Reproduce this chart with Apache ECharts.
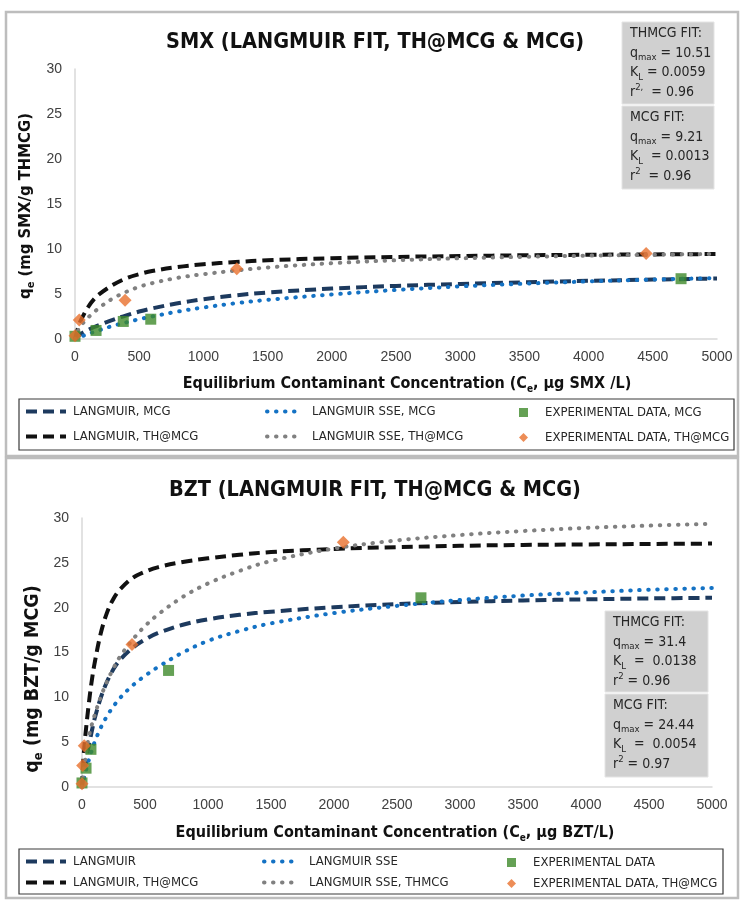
<!DOCTYPE html>
<html>
<head>
<meta charset="utf-8">
<script src="https://cdn.jsdelivr.net/npm/echarts@6/dist/echarts.min.js"></script>
<style>
  html, body { margin: 0; padding: 0; background: #ffffff; }
  #chart { width: 743px; height: 903px; }
</style>
</head>
<body>
<div id="chart"></div>
<script>
// ---------------- SMX panel data ----------------
// Concentration samples (µg/L) at which the fitted isotherms are drawn
const smxCe = [0, 25, 50, 100, 150, 200, 300, 400, 500, 600, 800, 1000, 1250, 1500, 2000, 2500, 3000, 3500, 4000, 4500, 5000];
const smxLangmuirMCG   = [0, 0.35, 0.62, 1.0, 1.33, 1.62, 2.15, 2.63, 3.05, 3.4, 3.97, 4.42, 4.85, 5.17, 5.6, 5.9, 6.12, 6.3, 6.46, 6.6, 6.72];
const smxSseMCG        = [0, 0.14, 0.28, 0.55, 0.79, 1.03, 1.48, 1.85, 2.2, 2.5, 3.05, 3.5, 3.97, 4.35, 4.95, 5.45, 5.85, 6.15, 6.4, 6.6, 6.78];
const smxLangmuirTH    = [0, 1.3, 2.2, 3.5, 4.45, 5.1, 6.05, 6.75, 7.2, 7.55, 8.0, 8.3, 8.55, 8.75, 8.98, 9.12, 9.22, 9.3, 9.36, 9.4, 9.44];
const smxSseTH         = [0, 1.0, 1.55, 2.35, 3.0, 3.6, 4.55, 5.25, 5.8, 6.2, 6.8, 7.2, 7.6, 7.95, 8.42, 8.75, 8.97, 9.13, 9.26, 9.37, 9.45];
// Measured points [Ce, qe]
const smxExpMCG = [[0, 0.3], [164, 0.95], [376, 1.95], [590, 2.2], [4720, 6.7]];
const smxExpTH  = [[0, 0.35], [33, 2.1], [390, 4.3], [1260, 7.8], [4448, 9.5]];

// ---------------- BZT panel data ----------------
const bztCe = [0, 10, 25, 50, 75, 100, 150, 200, 250, 300, 400, 500, 600, 800, 1000, 1250, 1500, 2000, 2500, 3000, 3500, 4000, 4500, 5000];
const bztLangmuirMCG = [0, 0.95, 2.25, 4.3, 6.05, 7.6, 10.0, 11.8, 13.15, 14.15, 15.5, 16.45, 17.15, 18.1, 18.7, 19.2, 19.55, 20.05, 20.4, 20.63, 20.8, 20.93, 21.03, 21.1];
const bztSseMCG      = [0, 0.6, 1.5, 2.8, 3.95, 5.0, 6.65, 7.95, 9.0, 9.9, 11.3, 12.4, 13.35, 15.0, 16.3, 17.4, 18.25, 19.4, 20.2, 20.85, 21.35, 21.7, 22.0, 22.2];
const bztLangmuirTH  = [0, 2.8, 5.5, 8.8, 11.6, 13.8, 17.2, 19.5, 21.0, 22.0, 23.3, 24.0, 24.5, 25.1, 25.5, 25.9, 26.2, 26.55, 26.75, 26.9, 27.0, 27.05, 27.1, 27.15];
const bztSseTH       = [0, 1.3, 3.0, 5.3, 6.8, 8.0, 10.1, 11.8, 13.25, 14.5, 16.4, 17.95, 19.2, 21.2, 22.7, 24.1, 25.2, 26.6, 27.5, 28.1, 28.55, 28.9, 29.15, 29.35];
const bztExpMCG = [[0, 0.45], [32, 2.1], [71, 4.2], [687, 13.0], [2690, 21.1]];
const bztExpTH  = [[0, 0.37], [5, 2.4], [18, 4.6], [397, 15.9], [2074, 27.3]];

// Axis ticks
const yTicks = { min: 0, max: 30, interval: 5 };
const xTicks = { min: 0, max: 5000, interval: 500 };

const NARROW = '"DejaVu Sans Condensed", "Liberation Sans Narrow", sans-serif';
const SANS = '"Liberation Sans", Arial, sans-serif';

const C_NAVY = '#1d3a5e';
const C_BLACK = '#111111';
const C_GRAY = '#808080';
const C_BLUE = '#1472c4';
const C_GREEN = '#3f8a2a';
const C_ORANGE = '#e8702d';

function pairs(xs, ys) { return xs.map((x, i) => [x, ys[i]]); }

function dashed(name, xs, ys, color, idx) {
  return {
    name, type: 'line', xAxisIndex: idx, yAxisIndex: idx,
    data: pairs(xs, ys), symbol: 'none', smooth: 0.35,
    lineStyle: { color, width: 4, type: [11, 6] }, itemStyle: { color }, z: 2
  };
}
function dotted(name, xs, ys, color, idx) {
  return {
    name, type: 'line', xAxisIndex: idx, yAxisIndex: idx,
    data: pairs(xs, ys), symbol: 'none', smooth: 0.35,
    lineStyle: { color, width: 4, type: [0.5, 8.5], cap: 'round' }, itemStyle: { color }, z: 2
  };
}
function points(name, data, color, symbol, size, idx) {
  return {
    name, type: 'scatter', xAxisIndex: idx, yAxisIndex: idx,
    data, symbol, symbolSize: size, itemStyle: { color }, z: 5
  };
}

function xAxisOf(grid) {
  return {
    gridIndex: grid, type: 'value', min: xTicks.min, max: xTicks.max, interval: xTicks.interval,
    axisLine: { show: true, lineStyle: { color: '#d9d9d9', width: 1.5 } },
    axisTick: { show: false }, splitLine: { show: false },
    axisLabel: { color: '#404040', fontSize: 14, fontFamily: SANS, margin: 11, formatter: v => String(v) }
  };
}
function yAxisOf(grid) {
  return {
    gridIndex: grid, type: 'value', min: yTicks.min, max: yTicks.max, interval: yTicks.interval,
    axisLine: { show: true, lineStyle: { color: '#d9d9d9', width: 1.5 } },
    axisTick: { show: false }, splitLine: { show: false },
    axisLabel: { color: '#404040', fontSize: 14, fontFamily: SANS, margin: 13 }
  };
}

// One legend entry; kind is 'dash', 'dot' or 'mark'.
// Line entries hide the marker ECharts adds in the middle of the icon.
function legendItem(name, left, top, kind) {
  const isLine = kind !== 'mark';
  const widths = { dash: 40, dot: 32, mark: 9 };
  const gaps = { dash: 2, dot: 8, mark: 12 };
  return {
    data: [name], left, top,
    itemWidth: widths[kind], itemHeight: isLine ? 10 : 9,
    itemGap: 0, padding: 0, selectedMode: false,
    itemStyle: isLine ? { opacity: 0 } : {},
    lineStyle: kind === 'dash' ? { width: 4 } : kind === 'dot' ? { width: 4, cap: 'round' } : {},
    textStyle: { fontFamily: NARROW, fontSize: 13, color: '#262626', padding: [0, 0, 0, gaps[kind]] }
  };
}

const subRich = {
  s: { fontSize: 9.5, fontFamily: NARROW, fill: '#262626', lineHeight: 12, verticalAlign: 'bottom' },
  p: { fontSize: 9.5, fontFamily: NARROW, fill: '#262626', lineHeight: 12, verticalAlign: 'top' }
};

function fitBox(x, y, w, h, lines) {
  return [
    { type: 'rect', shape: { x, y, width: w, height: h },
      style: { fill: '#d0d0d0', stroke: '#e4e4e4', lineWidth: 1 }, z: 10 },
    { type: 'text', x: x + 8, y: y + 2, z: 11,
      style: { text: lines.join('\n'), font: '14px ' + NARROW, fill: '#262626',
               lineHeight: 19.5, rich: subRich } }
  ];
}

const boldTitle = (txt, x, y, size) => ({
  type: 'text', x, y, z: 10,
  style: { text: txt, font: 'bold ' + size + 'px ' + NARROW, fill: '#111111', align: 'center', verticalAlign: 'middle' }
});

function axisTitle(mainBefore, sub, mainAfter, x, y, size, rotate) {
  const r = {
    b: { fontSize: size, fontWeight: 'bold', fontFamily: NARROW, fill: '#111111', lineHeight: size + 4 },
    e: { fontSize: Math.round(size * 0.65), fontWeight: 'bold', fontFamily: NARROW, fill: '#111111', lineHeight: 12, verticalAlign: 'bottom' }
  };
  return {
    type: 'text', x, y, rotation: rotate ? Math.PI / 2 : 0, z: 10,
    style: { text: '{b|' + mainBefore + '}{e|' + sub + '}{b|' + mainAfter + '}', rich: r,
             align: 'center', verticalAlign: 'middle' }
  };
}

const chart = echarts.init(document.getElementById('chart'), null, { renderer: 'canvas' });

const option = {
  backgroundColor: '#ffffff',
  animation: false,
  grid: [
    { left: 75, top: 69, width: 642, height: 270 },
    { left: 82, top: 518, width: 630, height: 269 }
  ],
  xAxis: [xAxisOf(0), xAxisOf(1)],
  yAxis: [yAxisOf(0), yAxisOf(1)],
  legend: [
    legendItem('LANGMUIR, MCG', 24, 405, 'dash'),
    legendItem('LANGMUIR SSE, MCG', 265, 405, 'dot'),
    legendItem('EXPERIMENTAL DATA, MCG', 519, 406, 'mark'),
    legendItem('LANGMUIR, TH@MCG', 24, 430, 'dash'),
    legendItem('LANGMUIR SSE, TH@MCG', 265, 430, 'dot'),
    legendItem('EXPERIMENTAL DATA, TH@MCG', 519, 431, 'mark'),
    legendItem('LANGMUIR', 24, 855, 'dash'),
    legendItem('LANGMUIR SSE', 262, 855, 'dot'),
    legendItem('EXPERIMENTAL DATA', 507, 856, 'mark'),
    legendItem('LANGMUIR, TH@MCG', 24, 876, 'dash'),
    legendItem('LANGMUIR SSE, THMCG', 262, 876, 'dot'),
    legendItem('EXPERIMENTAL DATA, TH@MCG', 507, 877, 'mark')
  ],
  series: [
    dashed('LANGMUIR, MCG', smxCe, smxLangmuirMCG, C_NAVY, 0),
    dotted('LANGMUIR SSE, MCG', smxCe, smxSseMCG, C_BLUE, 0),
    dashed('LANGMUIR, TH@MCG', smxCe, smxLangmuirTH, C_BLACK, 0),
    dotted('LANGMUIR SSE, TH@MCG', smxCe, smxSseTH, C_GRAY, 0),
    points('EXPERIMENTAL DATA, MCG', smxExpMCG, C_GREEN, 'rect', 11, 0),
    points('EXPERIMENTAL DATA, TH@MCG', smxExpTH, C_ORANGE, 'diamond', 13, 0),

    dashed('LANGMUIR', bztCe, bztLangmuirMCG, C_NAVY, 1),
    dotted('LANGMUIR SSE', bztCe, bztSseMCG, C_BLUE, 1),
    dashed('LANGMUIR, TH@MCG', bztCe, bztLangmuirTH, C_BLACK, 1),
    dotted('LANGMUIR SSE, THMCG', bztCe, bztSseTH, C_GRAY, 1),
    points('EXPERIMENTAL DATA', bztExpMCG, C_GREEN, 'rect', 11, 1),
    points('EXPERIMENTAL DATA, TH@MCG', bztExpTH, C_ORANGE, 'diamond', 13, 1)
  ],
  graphic: [
    // panel frames
    { type: 'rect', shape: { x: 6, y: 12, width: 732, height: 444 }, style: { fill: 'none', stroke: '#bdbdbd', lineWidth: 2.5 }, z: 0 },
    { type: 'rect', shape: { x: 6, y: 458, width: 732, height: 440 }, style: { fill: 'none', stroke: '#bdbdbd', lineWidth: 2.5 }, z: 0 },
    // legend boxes
    { type: 'rect', shape: { x: 19, y: 399, width: 715, height: 51 }, style: { fill: 'none', stroke: '#3a3a3a', lineWidth: 1.2 }, z: 0 },
    { type: 'rect', shape: { x: 19, y: 849, width: 704, height: 45 }, style: { fill: 'none', stroke: '#3a3a3a', lineWidth: 1.2 }, z: 0 },
    // titles
    boldTitle('SMX (LANGMUIR FIT, TH@MCG & MCG)', 375, 42, 21.5),
    boldTitle('BZT (LANGMUIR FIT, TH@MCG & MCG)', 375, 490, 21.5),
    axisTitle('q', 'e', ' (mg SMX/g THMCG)', 26, 206, 16.5, true),
    axisTitle('q', 'e', ' (mg BZT/g MCG)', 33, 679, 19.5, true),
    axisTitle('Equilibrium Contaminant Concentration (C', 'e', ', µg SMX /L)', 407, 384, 16, false),
    axisTitle('Equilibrium Contaminant Concentration (C', 'e', ', µg BZT/L)', 395, 833, 16, false),
    // fitted parameter boxes
    ...fitBox(622, 22, 92, 82, ['THMCG FIT:', 'q{s|max} = 10.51', 'K{s|L} = 0.0059', 'r{p|2,}  = 0.96']),
    ...fitBox(622, 106, 92, 83, ['MCG FIT:', 'q{s|max} = 9.21', 'K{s|L}  = 0.0013', 'r{p|2}  = 0.96']),
    ...fitBox(605, 611, 103, 81, ['THMCG FIT:', 'q{s|max} = 31.4', 'K{s|L}  =  0.0138', 'r{p|2} = 0.96']),
    ...fitBox(605, 694, 103, 83, ['MCG FIT:', 'q{s|max} = 24.44', 'K{s|L}  =  0.0054', 'r{p|2} = 0.97'])
  ]
};

chart.setOption(option);
</script>
</body>
</html>
